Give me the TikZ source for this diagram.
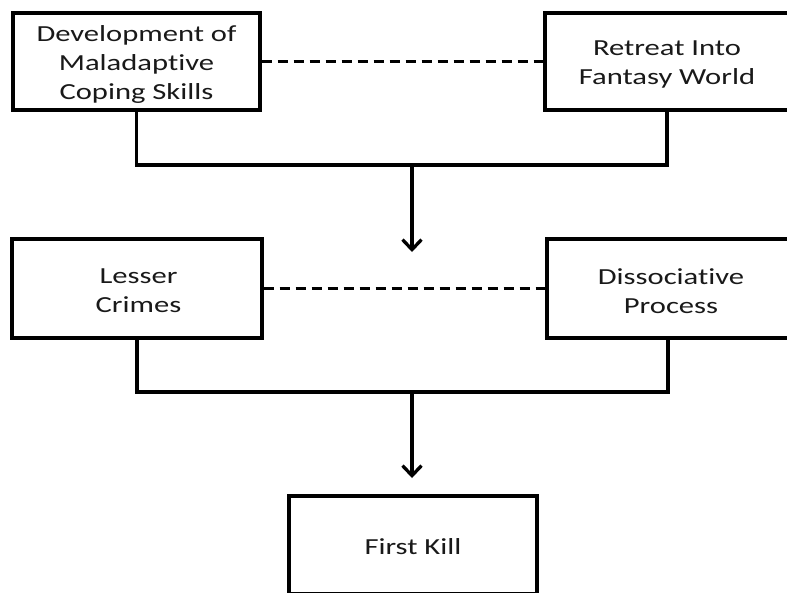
\documentclass[tikz,border=0pt]{standalone}
\usepackage{fontspec}
\setmainfont{Carlito}[FakeStretch=1.33,Ligatures={NoCommon}]
\usetikzlibrary{arrows.meta}
\begin{document}
\begin{tikzpicture}[x=1pt,y=-1pt,
  box/.style={draw=black,line width=3.3pt,rectangle,inner sep=0pt},
  txt/.style={inner sep=0pt,align=center,font=\fontsize{23}{29}\selectfont,text=black!90},
  dashline/.style={draw=black,line width=3.2pt,dash pattern=on 10pt off 6pt},
  conn/.style={draw=black,line width=3.3pt},
  arr/.style={conn,-{Straight Barb[length=10pt,width=19pt]}}]
\useasboundingbox (0,0) rectangle (787,592);
\clip (0,0) rectangle (787,592);
\node[box,minimum width=247pt,minimum height=97pt] (b1) at (136.5,61.5) {};
\node[box,minimum width=244pt,minimum height=97pt] (b2) at (667,61.5) {};
\node[box,minimum width=250pt,minimum height=99pt] (b3) at (137,288.5) {};
\node[box,minimum width=242pt,minimum height=99pt] (b4) at (668,288.5) {};
\node[box,minimum width=248pt,minimum height=98pt] (b5) at (413,545) {};
\node[txt] (t1) at ([yshift=-3pt]b1.center) {Development of\\Maladaptive\\Coping Skills};
\node[txt] (t2) at ([yshift=-3pt]b2.center) {Retreat Into\\Fantasy World};
\node[txt] (t3) at ([xshift=1.5pt,yshift=-2.5pt]b3.center) {Lesser\\Crimes};
\node[txt] (t4) at ([xshift=3pt,yshift=-3pt]b4.center) {Dissociative\\Process};
\node[txt] (t5) at ([yshift=-2pt]b5.center) {First Kill};
\coordinate (j1) at (412,165);
\coordinate (a1) at (412,252);
\coordinate (j2) at (412,392);
\coordinate (a2) at (412,478);
\draw[dashline] (b1.east) -- (b2.west);
\draw[dashline] (b3.east) -- (b4.west);
\draw[conn] (b1.south) |- (j1) -| (b2.south);
\draw[arr] (j1) -- (a1);
\draw[conn] (b3.south) |- (j2) -| (b4.south);
\draw[arr] (j2) -- (a2);
\end{tikzpicture}
\end{document}
